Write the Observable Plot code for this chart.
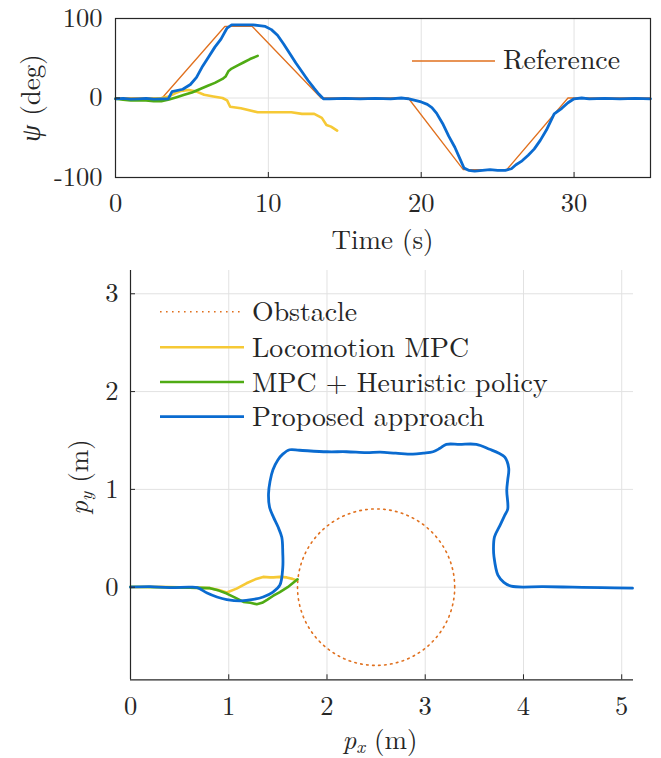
<!DOCTYPE html>
<html><head><meta charset="utf-8">
<script src="https://cdn.jsdelivr.net/npm/d3@7"></script>
<script src="https://cdn.jsdelivr.net/npm/@observablehq/plot@0.6"></script>
<style>
body{margin:0;background:#fff;}
#wrap{position:relative;width:661px;height:758px;}
#topc{position:absolute;left:0;top:0;}
#botc{position:absolute;left:0;top:258px;}
svg{overflow:visible;}
svg text{font-family:"Latin Modern Roman","Liberation Serif",serif;}
</style></head><body><div id="wrap"><div id="topc"></div><div id="botc"></div></div>
<script>
// ---------- data: heading vs time ----------
const timeTicks = [0, 10, 20, 30];
const psiTicks = [-100, 0, 100];
const refT   = [0, 3.05, 7.15, 8.95, 13.45, 19.15, 22.75, 25.6, 29.6, 35];
const refPsi = [0, 0, 90, 90, 0, 0, -90, -90, 0, 0];

const propT   = [0,0.5,1,1.5,2,2.5,3,3.45,3.7,4.4,4.9,5.3,5.7,6.1,6.5,6.9,7.3,7.6,8.0,8.5,9.0,9.4,9.8,10.2,10.6,11.0,11.4,11.8,12.2,12.6,13.0,13.3,13.6,14,15,16,17,18,18.7,19.2,19.6,20.0,20.4,20.7,21.0,21.4,21.8,22.2,22.5,22.8,23.1,23.5,24,24.5,25,25.5,25.9,26.2,26.6,27.0,27.4,27.8,28.2,28.7,29.2,29.6,30.0,30.5,31,32,33,34,35];
const propPsi = [-1,-0.5,-1.5,-1,-0.5,-1.5,-1,-1,8,11,17,26,40,52,64,74,88,92,92,92,92,91,90,86,79,68,56,44,33,22,12,5,-1,-1,-0.5,-1,-0.5,-1,0,-1,-3,-5,-8,-12,-19,-32,-48,-62,-75,-88,-91,-92,-91,-90,-91,-91,-89,-84,-79,-72,-64,-53,-40,-20,-13,-6,-1,0,-1,-0.5,-1,-0.5,-1];

const heurT   = [0,0.5,1,1.5,2,2.5,3,3.5,4,4.5,5,5.5,6,6.5,7,7.2,7.4,7.6,8,8.4,8.8,9.3];
const heurPsi = [-1,-2,-3,-3,-3,-4,-4,-2,1,4,7,11,15,19,24,27,34,37,41,45,49,53];

const locoT   = [0,1,2,3,3.5,3.9,4.3,4.8,5.3,5.8,6.4,7.0,7.3,7.5,8.2,9.3,10.5,11.5,12.2,13.0,13.5,13.8,14.1,14.5];
const locoPsi = [-1,-1,-1,0,2,6,9,10,8,4,2,0,-3,-11,-13,-18,-18,-18,-20,-20,-25,-34,-36,-41];

// ---------- data: planar trajectories ----------
const pxTicks = [0, 1, 2, 3, 4, 5];
const pyTicks = [0, 1, 2, 3];
const obstacleCenter = [2.5, 0];
const obstacleRadius = 0.8;

const propPx = [0,0.2,0.4,0.6,0.68,0.78,0.88,0.98,1.12,1.25,1.35,1.45,1.52,1.55,1.55,1.54,1.50,1.455,1.415,1.405,1.42,1.45,1.50,1.55,1.62,1.72,2.0,2.2,2.4,2.54,2.7,2.875,2.98,3.08,3.15,3.215,3.35,3.52,3.655,3.75,3.81,3.85,3.84,3.83,3.84,3.81,3.76,3.705,3.695,3.70,3.74,3.80,3.875,4.2,4.5,4.8,5.11];
const propPy = [0,0.005,-0.005,0,-0.005,-0.06,-0.1,-0.126,-0.14,-0.125,-0.1,-0.05,0.02,0.2,0.35,0.51,0.62,0.716,0.82,0.955,1.08,1.2,1.3,1.36,1.405,1.40,1.385,1.385,1.375,1.38,1.37,1.36,1.37,1.385,1.42,1.46,1.46,1.46,1.41,1.37,1.33,1.215,1.1,0.99,0.80,0.737,0.63,0.515,0.40,0.31,0.123,0.05,0.01,0.005,0,-0.005,-0.01];

const heurPx = [0,0.3,0.6,0.81,0.9,0.98,1.07,1.15,1.22,1.285,1.34,1.39,1.45,1.52,1.6,1.70];
const heurPy = [0.005,0,-0.005,-0.01,-0.035,-0.065,-0.11,-0.15,-0.16,-0.175,-0.16,-0.13,-0.09,-0.05,0.0,0.08];

const locoPx = [0,0.3,0.6,0.81,0.9,0.98,1.08,1.18,1.27,1.35,1.42,1.455,1.52,1.59,1.65,1.69];
const locoPy = [0,0.005,-0.005,-0.01,-0.03,-0.055,-0.015,0.04,0.08,0.105,0.1,0.1,0.105,0.1,0.085,0.07];

const seriesNames = ["Obstacle", "Locomotion MPC", "MPC + Heuristic policy", "Proposed approach"];

// ---------- style ----------
const FONT = "'Latin Modern Roman', 'Liberation Serif', serif";
const C = {orange: "#e0701e", yellow: "#f6c935", green: "#4fab14", blue: "#0a6bd0"};
const gridColor = "#e2e2e2";
const axisColor = "#262626";
const zip = (xs, ys) => xs.map((x, i) => ({x, y: ys[i]}));
const fmt = d => String(d);

// ---------- top chart ----------
const topChart = Plot.plot({
  width: 661, height: 258,
  marginLeft: 115, marginRight: 11, marginTop: 18, marginBottom: 81,
  style: {fontFamily: FONT, fontSize: "26.5px", color: axisColor, background: "white"},
  x: {domain: [0, 35]},
  y: {domain: [-100, 100]},
  marks: [
    Plot.gridX({ticks: timeTicks, stroke: gridColor, strokeOpacity: 1}),
    Plot.gridY({ticks: psiTicks, stroke: gridColor, strokeOpacity: 1}),
    Plot.line(zip(refT, refPsi), {x: "x", y: "y", stroke: C.orange, strokeWidth: 1.3}),
    Plot.line(zip(locoT, locoPsi), {x: "x", y: "y", stroke: C.yellow, strokeWidth: 2.6, strokeLinejoin: "round"}),
    Plot.line(zip(heurT, heurPsi), {x: "x", y: "y", stroke: C.green, strokeWidth: 2.6, strokeLinejoin: "round"}),
    Plot.line(zip(propT, propPsi), {x: "x", y: "y", stroke: C.blue, strokeWidth: 2.8, strokeLinejoin: "round"}),
    Plot.frame({stroke: axisColor, strokeWidth: 1.2}),
    Plot.axisX({ticks: timeTicks, tickSize: -5, tickFormat: () => "", label: null, stroke: axisColor}),
    Plot.axisY({ticks: psiTicks, tickSize: -5, tickFormat: () => "", label: null, stroke: axisColor}),
    Plot.axisX({ticks: timeTicks, tickSize: 0, tickPadding: 16, tickFormat: fmt, label: null}),
    Plot.axisY({ticks: psiTicks, tickSize: 0, tickPadding: 13, tickFormat: fmt, label: null})
  ]
});
document.getElementById("topc").appendChild(topChart);

// ---------- bottom chart ----------
const circle = d3.range(0, 361, 2).map(a => ({
  x: obstacleCenter[0] + obstacleRadius * Math.cos(a * Math.PI / 180),
  y: obstacleCenter[1] + obstacleRadius * Math.sin(a * Math.PI / 180)
}));
const xDom = [0, 5.12], yDom = [-0.947, 3.238];
const botChart = Plot.plot({
  width: 661, height: 500,
  marginLeft: 130, marginRight: 28, marginTop: 12, marginBottom: 78.7,
  style: {fontFamily: FONT, fontSize: "26.5px", color: axisColor, background: "white"},
  x: {domain: xDom},
  y: {domain: yDom},
  marks: [
    Plot.gridX({ticks: pxTicks.slice(1), stroke: gridColor, strokeOpacity: 1}),
    Plot.gridY({ticks: pyTicks, stroke: gridColor, strokeOpacity: 1}),
    Plot.line(circle, {x: "x", y: "y", stroke: C.orange, strokeWidth: 1.6, strokeDasharray: "1.6,4.4"}),
    Plot.line(zip(locoPx, locoPy), {x: "x", y: "y", stroke: C.yellow, strokeWidth: 2.6, strokeLinejoin: "round"}),
    Plot.line(zip(heurPx, heurPy), {x: "x", y: "y", stroke: C.green, strokeWidth: 2.6, strokeLinejoin: "round"}),
    Plot.line(zip(propPx, propPy), {x: "x", y: "y", stroke: C.blue, strokeWidth: 2.8, strokeLinejoin: "round", curve: "catmull-rom"}),
    Plot.ruleX([xDom[0]], {stroke: axisColor, strokeWidth: 1.2}),
    Plot.ruleY([yDom[0]], {stroke: axisColor, strokeWidth: 1.2}),
    Plot.axisX({ticks: pxTicks, tickSize: -5, tickFormat: () => "", label: null, stroke: axisColor}),
    Plot.axisY({ticks: pyTicks, tickSize: -5, tickFormat: () => "", label: null, stroke: axisColor}),
    Plot.axisX({ticks: pxTicks, tickSize: 0, tickPadding: 16, tickFormat: fmt, label: null}),
    Plot.axisY({ticks: pyTicks, tickSize: 0, tickPadding: 12, tickFormat: fmt, label: null})
  ]
});
document.getElementById("botc").appendChild(botChart);

// ---------- labels & legends ----------
function rich(svg, x, y, parts, {size = 27, rotate = false, anchor = "middle"} = {}) {
  const t = d3.select(svg).append("text")
    .attr("x", x).attr("y", y)
    .attr("text-anchor", anchor)
    .attr("font-size", size).attr("fill", axisColor);
  if (rotate) t.attr("transform", `rotate(-90,${x},${y})`);
  for (const p of parts) {
    const s = t.append("tspan").text(p.t);
    if (p.i) s.attr("font-style", "italic");
    if (p.sub) s.attr("font-size", size * 0.7).attr("dy", size * 0.16);
    if (p.back) s.attr("dy", -size * 0.16);
  }
  return t;
}
rich(topChart, 382.5, 249, [{t: "Time (s)"}]);
rich(topChart, 40, 98, [{t: "ψ", i: true}, {t: " (deg)"}], {rotate: true});
rich(botChart, 380, 491, [{t: "p", i: true}, {t: "x", i: true, sub: true}, {t: " (m)", back: true}]);
rich(botChart, 88, 477 - 258, [{t: "p", i: true}, {t: "y", i: true, sub: true}, {t: " (m)", back: true}], {rotate: true});

// top legend
const tl = d3.select(topChart).append("g");
tl.append("line").attr("x1", 412).attr("x2", 495).attr("y1", 61).attr("y2", 61).attr("stroke", C.orange).attr("stroke-width", 1.3);
tl.append("text").attr("x", 503).attr("y", 69).attr("text-anchor", "start").attr("font-size", 27.8).attr("fill", axisColor).text("Reference");

// bottom legend
const bl = d3.select(botChart).append("g");
const legendStyles = [
  {stroke: C.orange, w: 1.6, dash: "1.6,4.4"},
  {stroke: C.yellow, w: 2.6},
  {stroke: C.green, w: 2.6},
  {stroke: C.blue, w: 2.8}
];
const rowsY = [311.7, 347.3, 382, 416.7].map(v => v - 258);
seriesNames.forEach((name, i) => {
  const s = legendStyles[i];
  const ln = bl.append("line").attr("x1", 160).attr("x2", 244).attr("y1", rowsY[i]).attr("y2", rowsY[i])
    .attr("stroke", s.stroke).attr("stroke-width", s.w);
  if (s.dash) ln.attr("stroke-dasharray", s.dash);
  bl.append("text").attr("x", 252).attr("y", rowsY[i] + 9.5).attr("text-anchor", "start").attr("font-size", 27.8)
    .attr("fill", axisColor).text(name);
});
</script>
</body></html>
